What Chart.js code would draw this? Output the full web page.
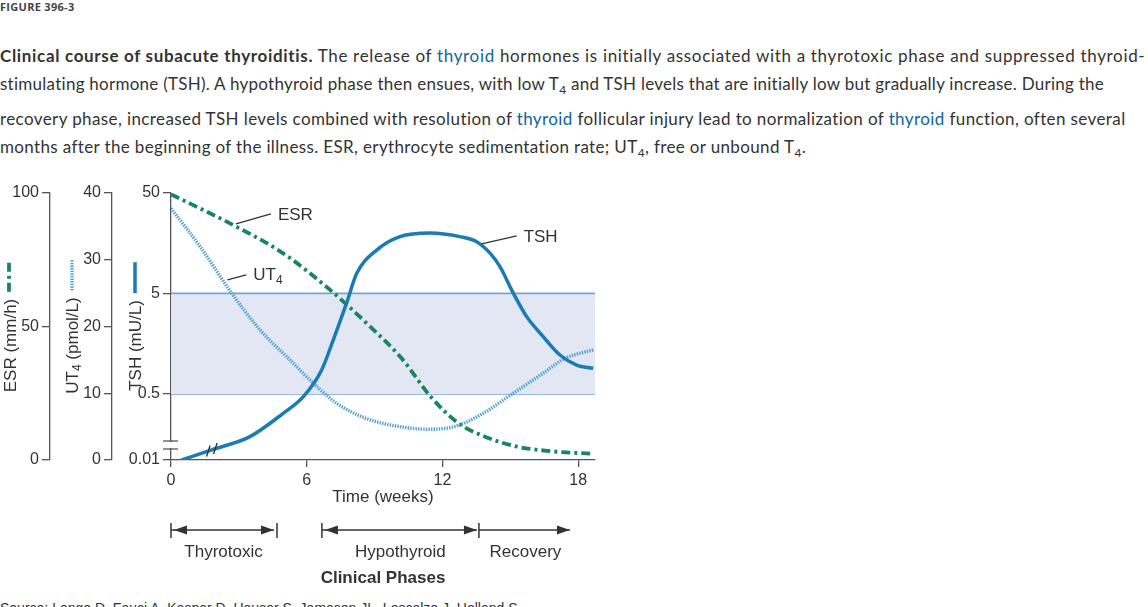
<!DOCTYPE html>
<html lang="en">
<head>
<meta charset="UTF-8">
<title>Clinical course of subacute thyroiditis</title>
<script src="https://cdn.jsdelivr.net/npm/chart.js"></script>
<style>
    body {
        margin: 0;
        background: #fff;
        color: #333;
        font-family: Lato, "Noto Sans", sans-serif;
        width: 1148px;
        height: 607px;
        overflow: hidden;
        position: relative;
    }

    .fig {
        position: absolute;
        left: 0;
        top: -1px;
        font: bold 11px "Open Sans", sans-serif;
        color: #444;
        letter-spacing: 0.3px;
    }

    .line {
        position: absolute;
        left: 0;
        white-space: nowrap;
        font-size: 17px;
        line-height: 20px;
    }

    .line a { color: #10649a; text-decoration: none; }
    .line sub { font-size: 12px; vertical-align: -4px; line-height: 0; }

    .chart-box {
        position: absolute;
        left: 0;
        top: 180px;
        width: 600px;
        height: 420px;
    }

    .source {
        position: absolute;
        left: 0;
        top: 600px;
        white-space: nowrap;
        font: 14px "Liberation Sans", Arial, sans-serif;
        color: #333;
    }
</style>
</head>

<body>
    <div class="fig">FIGURE 396-3</div>

    <div class="line" id="l1" style="top:46px"><b>Clinical course of subacute thyroiditis.</b> The release of <a>thyroid</a> hormones is initially associated with a thyrotoxic phase and suppressed thyroid-</div>
    <div class="line" id="l2" style="top:74px">stimulating hormone (TSH). A hypothyroid phase then ensues, with low T<sub>4</sub> and TSH levels that are initially low but gradually increase. During the</div>
    <div class="line" id="l3" style="top:109px">recovery phase, increased TSH levels combined with resolution of <a>thyroid</a> follicular injury lead to normalization of <a>thyroid</a> function, often several</div>
    <div class="line" id="l4" style="top:137px">months after the beginning of the illness. ESR, erythrocyte sedimentation rate; UT<sub>4</sub>, free or unbound T<sub>4</sub>.</div>

    <div class="chart-box">
        <canvas id="course"></canvas>
    </div>

    <div class="source">Source: Longo D, Fauci A, Kasper D, Hauser S, Jameson JL, Loscalzo J, Holland S</div>

    <script>
        // Time axis (weeks)
        const xTicks = [0, 6, 12, 18];
        const xMax = 18.74;

        // ESR (mm/h)
        const esrWeeks = [0, 2.75, 4.96, 7.03, 8.65, 10.2, 11.5, 12.7, 13.8, 15.3, 16.8, 18.66];
        const esrValues = [99.5, 88, 77.4, 63.7, 51.2, 38, 23.5, 13.8, 9.0, 5.0, 3.3, 2.3];

        // UT4 (pmol/L)
        const ut4Weeks = [0, 1.28, 2.68, 3.93, 5.26, 6.29, 7.32, 8.65, 10.12, 11.45, 12.62, 13.8, 15.13, 16.45, 17.4, 18.66];
        const ut4Values = [37.7, 32.0, 25.0, 19.5, 15.0, 11.5, 8.5, 6.2, 5.0, 4.6, 5.1, 7.0, 10.0, 13.0, 15.2, 16.5];

        // TSH (mU/L), broken log axis: the lowest tick stands for 0.01
        const tshWeeks = [0.47, 1.8, 3.49, 4.96, 5.85, 6.66, 7.17, 7.76, 8.21, 9.09, 10.12, 11.45, 12.77, 13.51, 14.1, 14.54, 15.13, 15.72, 16.45, 17.19, 17.93, 18.66];
        const tshValues = [0.11, 0.139, 0.188, 0.321, 0.47, 0.867, 1.72, 4.0, 7.94, 13.5, 18.4, 20.0, 18.4, 16.4, 12.6, 9.24, 5.02, 2.94, 1.86, 1.22, 0.97, 0.9];
        const tshTicks = [0.11, 0.5, 5, 50];
        const tshTickLabels = ['0.01', '0.5', '5', '50'];

        // normal TSH range
        const normalLow = 0.5;
        const normalHigh = 5;

        // clinical phases (weeks)
        const phaseNames = ['Thyrotoxic', 'Hypothyroid', 'Recovery'];
        const phaseStart = [0, 6.67, 13.61];
        const phaseEnd = [4.64, 13.61, 17.72];

        const FONT = '"Liberation Sans", Arial, sans-serif';
        const axisColor = '#555';
        const textColor = '#333';
        const tshColor = '#1b7bb3';
        const esrColor = '#16875b';
        const ut4Color = '#4f9fd3';
        const esrDash = [9, 4, 3, 4];
        const ut4Dash = [1.4, 1.2];

        const toPoints = (xs, ys) => xs.map((x, i) => ({ x: x, y: ys[i] }));

        function yAxis(min, max, weight, width) {
            return {
                type: 'linear',
                position: 'left',
                min: min,
                max: max,
                weight: weight,
                afterFit: s => { s.width = width; },
                border: { display: true, color: axisColor, width: 1.3 },
                grid: { drawOnChartArea: false, drawTicks: true, tickLength: 8, color: axisColor, lineWidth: 1.3 },
                ticks: { color: textColor, font: { size: 16 }, padding: 3 },
                title: { display: false }
            };
        }

        const esrAxis = yAxis(0, 100, 3, 50);
        esrAxis.ticks.stepSize = 50;
        const ut4Axis = yAxis(0, 40, 2, 62);
        ut4Axis.ticks.stepSize = 10;
        const tshAxis = yAxis(tshTicks[0], 50, 1, 59);
        tshAxis.type = 'logarithmic';
        tshAxis.afterBuildTicks = s => { s.ticks = tshTicks.map(v => ({ value: v })); };
        tshAxis.ticks.callback = (v, i) => tshTickLabels[i];

        // labels on the curves: start on the curve, short leader line, text
        const curveLabels = [
            { text: 'ESR', sub: '', axis: 'yESR', w: 2.87, v: 88.4, dx: 35, dy: -10 },
            { text: 'UT', sub: '4', axis: 'yUT4', w: 2.49, v: 27.0, dx: 19, dy: -5 },
            { text: 'TSH', sub: '', axis: 'yTSH', w: 13.73, v: 15.6, dx: 35, dy: -8 }
        ];

        function seg(ctx, x1, y1, x2, y2) {
            ctx.beginPath();
            ctx.moveTo(x1, y1);
            ctx.lineTo(x2, y2);
            ctx.stroke();
        }

        function arrowHead(ctx, x, y, dir) {
            ctx.beginPath();
            ctx.moveTo(x, y);
            ctx.lineTo(x - dir * 13, y - 4.5);
            ctx.lineTo(x - dir * 13, y + 4.5);
            ctx.closePath();
            ctx.fill();
        }

        // text with an optional subscript, drawn from (x, y) along the current direction
        function richText(ctx, parts, x, y) {
            let cx = x;
            parts.forEach(p => {
                ctx.font = (p.bold ? 'bold ' : '') + p.size + 'px ' + FONT;
                ctx.fillText(p.t, cx, y + (p.dy || 0));
                cx += ctx.measureText(p.t).width;
            });
        }

        function richWidth(ctx, parts) {
            let w = 0;
            parts.forEach(p => {
                ctx.font = p.size + 'px ' + FONT;
                w += ctx.measureText(p.t).width;
            });
            return w;
        }

        // y on a drawn curve at pixel x (linear between its points)
        function curveY(meta, px) {
            const pts = meta.data;
            for (let i = 1; i < pts.length; i++) {
                if (pts[i].x >= px) {
                    const a = pts[i - 1], b = pts[i];
                    return a.y + (b.y - a.y) * (px - a.x) / (b.x - a.x);
                }
            }
            return pts[pts.length - 1].y;
        }

        const decorations = {
            id: 'decorations',
            afterDraw(chart) {
                const ctx = chart.ctx;
                const area = chart.chartArea;
                const sx = chart.scales.x;
                ctx.save();
                ctx.lineCap = 'butt';

                // axis break on the TSH axis
                const b1 = area.bottom - 19, b2 = area.bottom - 11;
                ctx.fillStyle = '#fff';
                ctx.fillRect(area.left - 2, b1 + 1, 4, b2 - b1 - 2);
                ctx.strokeStyle = axisColor;
                ctx.lineWidth = 1.3;
                seg(ctx, area.left - 8, b1, area.left + 7, b1);
                seg(ctx, area.left - 8, b2, area.left + 7, b2);

                // break marks on the TSH curve
                const tshMeta = chart.getDatasetMeta(4);
                ctx.strokeStyle = '#333';
                ctx.lineWidth = 1.4;
                [1.65, 1.96].forEach(w => {
                    const px = sx.getPixelForValue(w);
                    const py = curveY(tshMeta, px);
                    seg(ctx, px - 1.8, py + 5.5, px + 1.8, py - 5.5);
                });

                // axis titles with line samples
                const titles = [
                    { scale: chart.scales.yESR, off: 11, gx: 9, parts: [{ t: 'ESR (mm/h)', size: 17 }], color: esrColor, dash: esrDash, lw: 3.8 },
                    { scale: chart.scales.yUT4, off: 23, gx: 22, parts: [{ t: 'UT', size: 17 }, { t: '4', size: 12, dy: 5 }, { t: ' (pmol/L)', size: 17 }], color: ut4Color, dash: ut4Dash, lw: 3.4 },
                    { scale: chart.scales.yTSH, off: 24, gx: 23, parts: [{ t: 'TSH (mU/L)', size: 17 }], color: tshColor, dash: [], lw: 3.5 }
                ];
                const mid = (area.top + area.bottom) / 2;
                titles.forEach(t => {
                    const tw = richWidth(ctx, t.parts);
                    const glyph = 31, gap = 7;
                    const top = mid - (glyph + gap + tw) / 2;
                    const gxp = t.scale.left + t.gx;
                    ctx.strokeStyle = t.color;
                    ctx.lineWidth = t.lw;
                    ctx.setLineDash(t.dash);
                    seg(ctx, gxp, top + glyph, gxp, top);
                    ctx.setLineDash([]);
                    ctx.save();
                    ctx.translate(t.scale.left + t.off, top + glyph + gap + tw);
                    ctx.rotate(-Math.PI / 2);
                    ctx.fillStyle = textColor;
                    ctx.textBaseline = 'middle';
                    ctx.textAlign = 'left';
                    richText(ctx, t.parts, 0, 0);
                    ctx.restore();
                });

                // curve labels
                curveLabels.forEach(l => {
                    const x0 = sx.getPixelForValue(l.w);
                    const y0 = chart.scales[l.axis].getPixelForValue(l.v);
                    ctx.strokeStyle = '#333';
                    ctx.lineWidth = 1.3;
                    seg(ctx, x0, y0, x0 + l.dx, y0 + l.dy);
                    ctx.fillStyle = textColor;
                    ctx.textBaseline = 'middle';
                    ctx.textAlign = 'left';
                    const parts = [{ t: l.text, size: 17 }];
                    if (l.sub) parts.push({ t: l.sub, size: 12, dy: 5 });
                    richText(ctx, parts, x0 + l.dx + 7, y0 + l.dy + 1);
                });

                // clinical phases
                const yA = area.bottom + 70;
                ctx.strokeStyle = '#333';
                ctx.fillStyle = '#333';
                ctx.lineWidth = 1.5;
                phaseNames.forEach((name, i) => {
                    const x1 = sx.getPixelForValue(phaseStart[i]);
                    const x2 = sx.getPixelForValue(phaseEnd[i]);
                    seg(ctx, x1, yA - 7, x1, yA + 8);
                    seg(ctx, x1, yA, x2 - 2, yA);
                    arrowHead(ctx, x2 - 2, yA, 1);
                    if (i < phaseNames.length - 1) arrowHead(ctx, x1 + 3, yA, -1);
                    if (i === 0) seg(ctx, x2 + 1, yA - 7, x2 + 1, yA + 8);
                    ctx.font = '17px ' + FONT;
                    ctx.textAlign = 'center';
                    ctx.textBaseline = 'middle';
                    ctx.fillText(name, (x1 + x2) / 2, yA + 22);
                });
                ctx.font = 'bold 17px ' + FONT;
                ctx.fillText('Clinical Phases', (area.left + area.right) / 2, yA + 48);

                ctx.restore();
            }
        };

        Chart.defaults.font.family = FONT;
        Chart.defaults.color = textColor;

        new Chart(document.getElementById('course'), {
            type: 'line',
            data: {
                datasets: [
                    {
                        label: 'normal high',
                        data: toPoints([0, xMax], [normalHigh, normalHigh]),
                        yAxisID: 'yTSH',
                        borderColor: '#74a3d6',
                        borderWidth: 1.8,
                        backgroundColor: '#e2e7f3',
                        fill: '+1',
                        pointRadius: 0,
                        order: 10
                    },
                    {
                        label: 'normal low',
                        data: toPoints([0, xMax], [normalLow, normalLow]),
                        yAxisID: 'yTSH',
                        borderColor: '#74a3d6',
                        borderWidth: 1.8,
                        fill: false,
                        pointRadius: 0,
                        order: 10
                    },
                    {
                        label: 'ESR',
                        data: toPoints(esrWeeks, esrValues),
                        yAxisID: 'yESR',
                        borderColor: esrColor,
                        borderWidth: 3.8,
                        borderDash: esrDash,
                        cubicInterpolationMode: 'monotone',
                        pointRadius: 0,
                        fill: false,
                        order: 3
                    },
                    {
                        label: 'UT4',
                        data: toPoints(ut4Weeks, ut4Values),
                        yAxisID: 'yUT4',
                        borderColor: ut4Color,
                        borderWidth: 3.4,
                        borderDash: ut4Dash,
                        cubicInterpolationMode: 'monotone',
                        pointRadius: 0,
                        fill: false,
                        order: 2
                    },
                    {
                        label: 'TSH',
                        data: toPoints(tshWeeks, tshValues),
                        yAxisID: 'yTSH',
                        borderColor: tshColor,
                        borderWidth: 3.5,
                        cubicInterpolationMode: 'monotone',
                        pointRadius: 0,
                        fill: false,
                        order: 1
                    }
                ]
            },
            options: {
                responsive: true,
                maintainAspectRatio: false,
                animation: false,
                events: [],
                layout: { padding: { left: 0, top: 13, right: 5, bottom: 92 } },
                plugins: { legend: { display: false }, tooltip: { enabled: false } },
                scales: {
                    x: {
                        type: 'linear',
                        min: 0,
                        max: xMax,
                        afterFit: s => { s.height = 48; },
                        afterBuildTicks: s => { s.ticks = xTicks.map(v => ({ value: v })); },
                        border: { display: true, color: axisColor, width: 1.3 },
                        grid: { drawOnChartArea: false, drawTicks: true, tickLength: 7, color: axisColor, lineWidth: 1.3 },
                        ticks: { color: textColor, font: { size: 16 }, padding: 4, maxRotation: 0 },
                        title: { display: true, text: 'Time (weeks)', color: textColor, font: { size: 17 }, padding: 0 }
                    },
                    yESR: esrAxis,
                    yUT4: ut4Axis,
                    yTSH: tshAxis
                }
            },
            plugins: [decorations]
        });

        // stretch each caption line to the width it has in the figure
        const lineTargets = { l1: 1146, l2: 1105, l3: 1126, l4: 806 };
        function fitCaption() {
            Object.keys(lineTargets).forEach(id => {
                const el = document.getElementById(id);
                el.style.letterSpacing = '0px';
                const w = el.getBoundingClientRect().width;
                const n = el.textContent.length;
                el.style.letterSpacing = ((lineTargets[id] - w) / n).toFixed(3) + 'px';
            });
        }
        fitCaption();
        if (document.fonts) document.fonts.ready.then(fitCaption);
    </script>
</body>

</html>
